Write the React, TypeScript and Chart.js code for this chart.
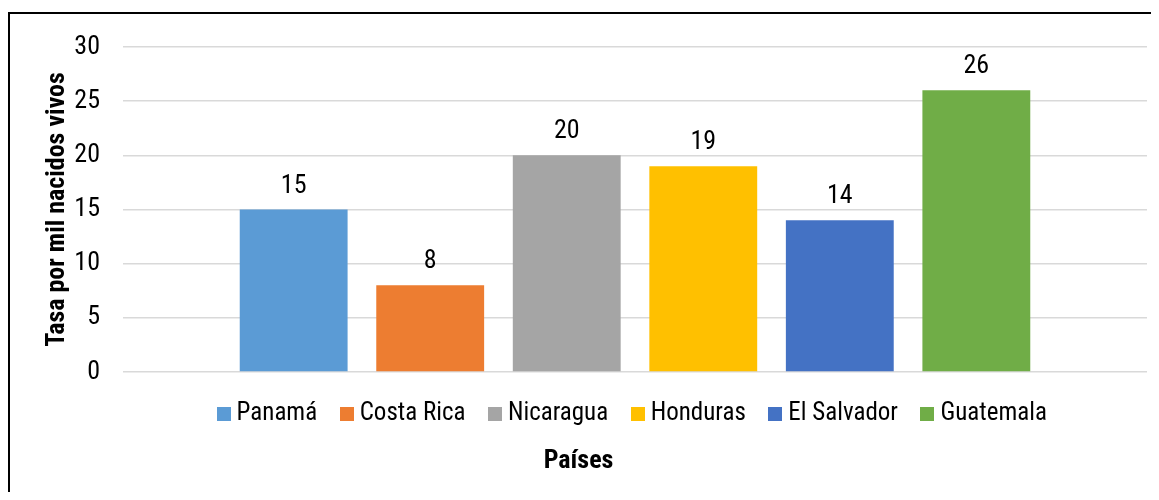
import React, { useEffect, useRef } from "react";
import { Chart, registerables } from "chart.js";

Chart.register(...registerables);

// ---- data ----
const countries = ["Panamá", "Costa Rica", "Nicaragua", "Honduras", "El Salvador", "Guatemala"];
const rates = [15, 8, 20, 19, 14, 26];
const colors = ["#5B9BD5", "#ED7D31", "#A5A5A5", "#FFC000", "#4472C4", "#70AD47"];
const categoryLabels = [""];
const yMin = 0;
const yMax = 30;
const yStep = 5;
const yTitle = "Tasa por mil nacidos vivos";
const xTitle = "Países";

const FONT = "'Liberation Sans Narrow', 'Arial Narrow', 'Roboto Condensed', 'Liberation Sans', sans-serif";

const valueLabels = {
  id: "valueLabels",
  afterDatasetsDraw(chart: any) {
    const ctx = chart.ctx;
    ctx.save();
    ctx.font = `26px ${FONT}`;
    ctx.fillStyle = "#000";
    ctx.textAlign = "center";
    ctx.textBaseline = "alphabetic";
    chart.data.datasets.forEach((ds: any, i: number) => {
      const meta = chart.getDatasetMeta(i);
      if (meta.hidden) return;
      meta.data.forEach((el: any, j: number) => {
        ctx.fillText(String(ds.data[j]), el.x, el.y - 17);
      });
    });
    ctx.restore();
  },
};

export default function App() {
  const ref = useRef<HTMLCanvasElement | null>(null);

  useEffect(() => {
    if (!ref.current) return;
    const swatches = colors.map((c) => {
      const s = document.createElement("canvas");
      s.width = 14;
      s.height = 14;
      const g = s.getContext("2d")!;
      g.fillStyle = c;
      g.fillRect(0, 0, 14, 14);
      return s;
    });

    const chart = new Chart(ref.current, {
      type: "bar",
      data: {
        labels: categoryLabels,
        datasets: countries.map((name, i) => ({
          label: name,
          data: [rates[i]],
          backgroundColor: colors[i],
          borderWidth: 0,
          categoryPercentage: 0.8,
          barPercentage: 0.79,
        })),
      },
      options: {
        responsive: false,
        animation: false,
        devicePixelRatio: 1,
        layout: { padding: { top: 33, left: 0, right: 35, bottom: 5.4 } },
        scales: {
          x: { display: false },
          y: {
            min: yMin,
            max: yMax,
            ticks: {
              stepSize: yStep,
              padding: 0,
              color: "#000",
              font: { family: FONT, size: 26 },
            },
            grid: {
              color: "#d9d9d9",
              lineWidth: 1.5,
              drawTicks: true,
              tickLength: 23,
              tickColor: "rgba(0,0,0,0)",
            },
            border: { display: false },
            title: {
              display: true,
              text: yTitle,
              color: "#000",
              font: { family: FONT, size: 26, weight: "bold" },
              padding: { top: 32, bottom: 0 },
            },
            afterFit: (scale: any) => {
              scale.width = 113;
            },
          },
        },
        plugins: {
          tooltip: { enabled: false },
          legend: {
            position: "bottom",
            fullSize: false,
            labels: {
              usePointStyle: true,
              pointStyleWidth: 1,
              padding: 29,
              color: "#000",
              font: { family: FONT, size: 25 },
              generateLabels: (ch: any) => {
                const items = (Chart as any).defaults.plugins.legend.labels.generateLabels(ch);
                return items.map((it: any) => ({
                  ...it,
                  pointStyle: swatches[it.datasetIndex],
                  lineWidth: 0,
                }));
              },
            },
          },
          title: {
            display: true,
            position: "bottom",
            text: xTitle,
            color: "#000",
            font: { family: FONT, size: 26, weight: "bold", lineHeight: 1.2 },
            padding: { top: 9.4, bottom: 8 },
          },
        },
      } as any,
      plugins: [valueLabels],
    });
    return () => chart.destroy();
  }, []);

  return (
    <div style={{ width: 1151, height: 480, paddingTop: 4, overflow: "hidden" }}>
      <div style={{ border: "2px solid #000", width: 1172, height: 490 }}>
        <canvas ref={ref} width={1172} height={476} style={{ display: "block", width: 1172, height: 476 }} />
      </div>
    </div>
  );
}
